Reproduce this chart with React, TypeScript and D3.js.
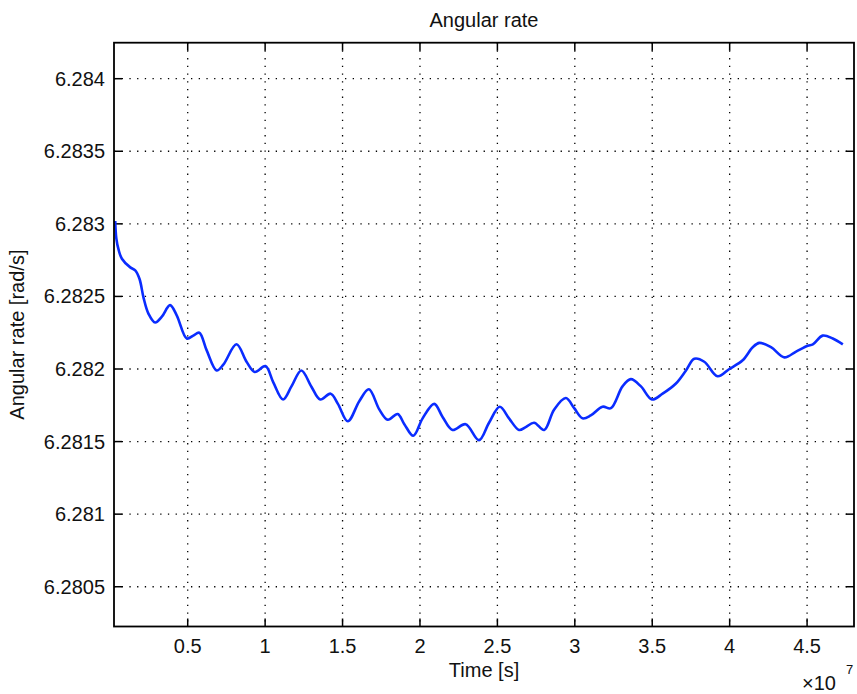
import * as d3 from 'd3';

// time in units of 1e7 s
const timeE7 = [
  0.032, 0.039, 0.054, 0.075, 0.129, 0.161, 0.189, 0.215, 0.247, 0.29, 0.333, 0.386, 0.429,
  0.494, 0.536, 0.575, 0.622, 0.687, 0.73, 0.815, 0.88, 0.933, 1.002, 1.052, 1.116, 1.17,
  1.234, 1.298, 1.356, 1.423, 1.47, 1.534, 1.609, 1.67, 1.738, 1.792, 1.856, 1.899, 1.957,
  2.017, 2.092, 2.146, 2.21, 2.295, 2.381, 2.446, 2.515, 2.575, 2.64, 2.683, 2.737, 2.802,
  2.866, 2.942, 2.996, 3.05, 3.103, 3.179, 3.233, 3.308, 3.362, 3.427, 3.498, 3.567, 3.653,
  3.718, 3.772, 3.836, 3.922, 3.998, 4.084, 4.149, 4.192, 4.267, 4.353, 4.429, 4.504, 4.537,
  4.601, 4.666, 4.731,
];
const rate = [
  6.28302, 6.2829, 6.28282, 6.28276, 6.2827, 6.28268, 6.28262, 6.28249, 6.28238, 6.28232,
  6.28236, 6.28244, 6.28237, 6.28221, 6.28223, 6.28225, 6.28213, 6.28199, 6.28203, 6.28217,
  6.28205, 6.28198, 6.28202, 6.28191, 6.28179, 6.28188, 6.28199, 6.28188, 6.28179, 6.28183,
  6.28176, 6.28164, 6.28178, 6.28186, 6.28172, 6.28165, 6.28169, 6.28162, 6.28154, 6.28166,
  6.28176, 6.28167, 6.28158, 6.28162, 6.28151, 6.28163, 6.28174, 6.28166, 6.28158, 6.2816,
  6.28163, 6.28158, 6.28172, 6.2818, 6.28173, 6.28166, 6.28168, 6.28174, 6.28173, 6.28188,
  6.28193, 6.28188, 6.28179, 6.28183, 6.2819, 6.28199, 6.28207, 6.28205, 6.28195, 6.282,
  6.28206, 6.28215, 6.28218, 6.28215, 6.28208, 6.28212, 6.28216, 6.28217, 6.28223, 6.28221,
  6.28217,
];

const xTicks = [0.5, 1, 1.5, 2, 2.5, 3, 3.5, 4, 4.5];
const xTickLabels = ['0.5', '1', '1.5', '2', '2.5', '3', '3.5', '4', '4.5'];
const yTicks = [6.2805, 6.281, 6.2815, 6.282, 6.2825, 6.283, 6.2835, 6.284];
const yTickLabels = ['6.2805', '6.281', '6.2815', '6.282', '6.2825', '6.283', '6.2835', '6.284'];

const W = 857;
const H = 694;
const left = 114, right = 854, top = 42.7, bottom = 626.5;
const font = '"Liberation Sans", Arial, Helvetica, sans-serif';

export default function App() {
  const x = d3.scaleLinear().domain([0.024, 4.803]).range([left, right]);
  const y = d3.scaleLinear().domain([6.280226, 6.284248]).range([bottom, top]);
  const pts = timeE7.map((t, i) => [t, rate[i]] as [number, number]);
  const line = d3.line<[number, number]>()
    .x(d => x(d[0]))
    .y(d => y(d[1]))
    .curve(d3.curveCatmullRom.alpha(0.5));
  const tick = 8;

  return (
    <svg width={W} height={H} style={{ position: 'absolute', left: 0, top: 0, background: '#fff' }}
      fontFamily={font}>
      <rect x={0} y={0} width={W} height={H} fill="#fff" />
      {/* grid */}
      <g stroke="#000" strokeWidth={1.3} strokeDasharray="1.3,6.4">
        {xTicks.map(t => (
          <line key={'gx' + t} x1={x(t)} x2={x(t)} y1={top} y2={bottom} />
        ))}
        {yTicks.map(v => (
          <line key={'gy' + v} x1={left} x2={right} y1={y(v)} y2={y(v)} />
        ))}
      </g>
      {/* ticks */}
      <g stroke="#000" strokeWidth={1.5}>
        {xTicks.map(t => (
          <g key={'tx' + t}>
            <line x1={x(t)} x2={x(t)} y1={bottom} y2={bottom - tick} />
            <line x1={x(t)} x2={x(t)} y1={top} y2={top + tick} />
          </g>
        ))}
        {yTicks.map(v => (
          <g key={'ty' + v}>
            <line x1={left} x2={left + tick} y1={y(v)} y2={y(v)} />
            <line x1={right} x2={right - tick} y1={y(v)} y2={y(v)} />
          </g>
        ))}
      </g>
      <path d={line(pts) ?? ''} fill="none" stroke="#0a2cff" strokeWidth={2.6} strokeLinejoin="round" />
      <rect x={left} y={top} width={right - left} height={bottom - top} fill="none" stroke="#000" strokeWidth={1.8} />
      {/* tick labels */}
      <g fontSize={20} fill="#111">
        {xTicks.map((t, i) => (
          <text key={'lx' + t} x={x(t)} y={653} textAnchor="middle">{xTickLabels[i]}</text>
        ))}
        {yTicks.map((v, i) => (
          <text key={'ly' + v} x={105} y={y(v)} dy="0.35em" textAnchor="end">{yTickLabels[i]}</text>
        ))}
      </g>
      <text x={(left + right) / 2} y={27} textAnchor="middle" fontSize={20} fill="#111">Angular rate</text>
      <text x={(left + right) / 2} y={677} textAnchor="middle" fontSize={20} fill="#111">Time [s]</text>
      <text transform={`translate(24, ${(top + bottom) / 2}) rotate(-90)`} textAnchor="middle" fontSize={20} fill="#111">
        Angular rate [rad/s]
      </text>
      <text x={802} y={690} fontSize={20} fill="#111">×10</text>
      <text x={846} y={674} fontSize={13} fill="#111">7</text>
    </svg>
  );
}
